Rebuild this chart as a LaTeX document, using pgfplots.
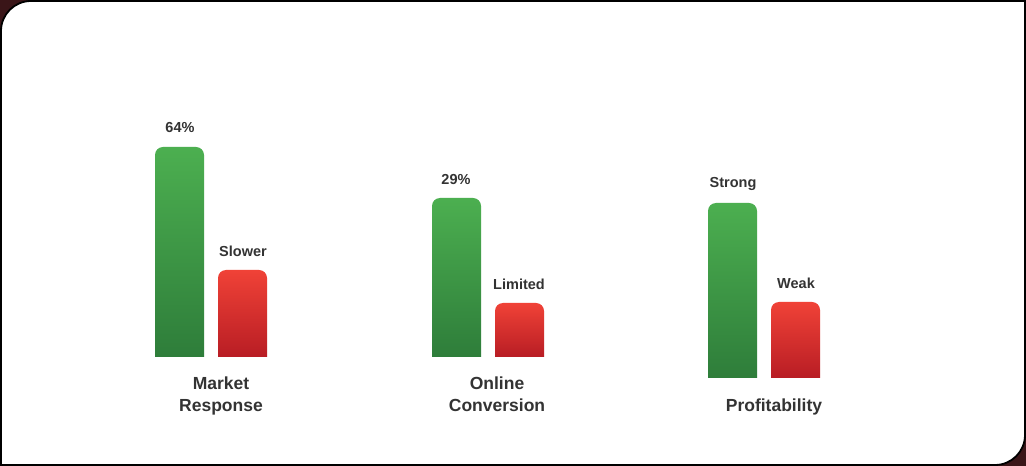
\documentclass[border=0pt]{standalone}
\usepackage{pgfplots}
\pgfplotsset{compat=1.18}
\usepackage{fontspec}
\setmainfont{Liberation Sans}

\definecolor{outside}{HTML}{3A1518}
\definecolor{gtop}{HTML}{4CAF50}
\definecolor{gbot}{HTML}{2E7D3A}
\definecolor{rtop}{HTML}{F04237}
\definecolor{rbot}{HTML}{B81D24}
\definecolor{txt}{HTML}{333333}

\tikzset{%
  greenBar/.style={draw=none, top color=gtop, bottom color=gbot, rounded corners=8pt},
  redBar/.style={draw=none, top color=rtop, bottom color=rbot, rounded corners=8pt},
  valLabel/.style={font=\bfseries\fontsize{14.5}{16}\selectfont, text=txt},
  catLabel/.style={font=\bfseries\fontsize{17.5}{22}\selectfont, text=txt, align=center}
}

\begin{document}
\begin{tikzpicture}
\begin{axis}[%
  scale only axis,
  width=1026pt, height=466pt,
  xmin=0, xmax=1026, ymin=0, ymax=466,
  hide axis, clip=false
]
% panel
\fill[outside] (0,0) rectangle (1026,466);
\draw[fill=white, line width=1.8pt] (1,1) -- (1,435) arc[start angle=180, end angle=90, radius=30]
  -- (1025,465) -- (1025,31) arc[start angle=0, end angle=-90, radius=30] -- cycle;

% Market Response
\addplot[greenBar] coordinates {(155,109) (155,319) (204,319) (204,109)};
\addplot[redBar]   coordinates {(218,109) (218,196) (267,196) (267,109)};
% Online Conversion
\addplot[greenBar] coordinates {(432,109) (432,268) (481,268) (481,109)};
\addplot[redBar]   coordinates {(495,109) (495,163) (544,163) (544,109)};
% Profitability
\addplot[greenBar] coordinates {(708,88) (708,263) (757,263) (757,88)};
\addplot[redBar]   coordinates {(771,88) (771,164) (820,164) (820,88)};

\node[valLabel] at (180,338) {64\%};
\node[valLabel] at (243,215) {Slower};
\node[valLabel] at (456,286) {29\%};
\node[valLabel] at (519,182) {Limited};
\node[valLabel] at (733,282) {Strong};
\node[valLabel] at (796,183) {Weak};

\node[catLabel] at (221,70) {Market\\Response};
\node[catLabel] at (497,72) {Online\\Conversion};
\node[catLabel] at (774,59) {Profitability};
\end{axis}
\end{tikzpicture}
\end{document}
